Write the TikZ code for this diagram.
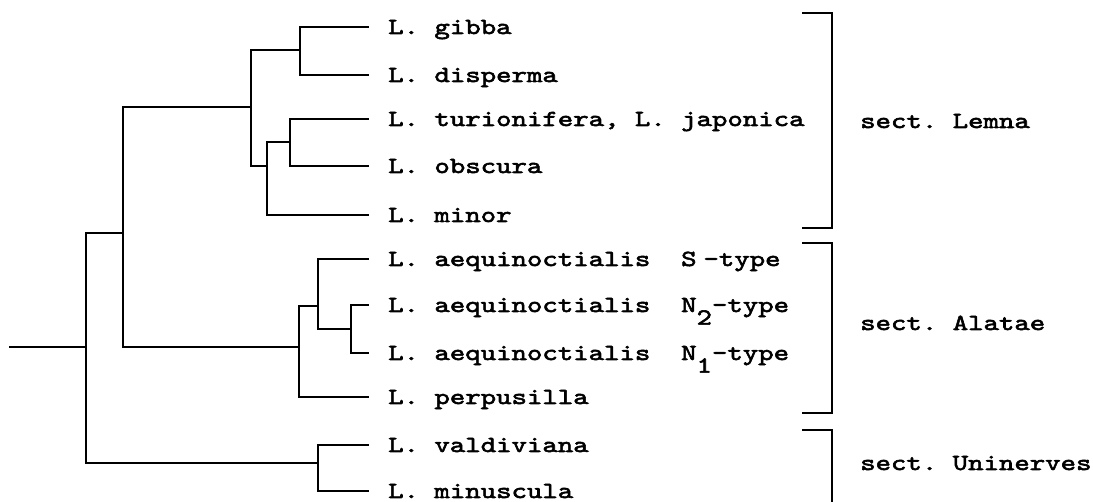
\documentclass[tikz,border=0pt]{standalone}
\usepackage{fontspec}
\newfontfamily\tw[FakeStretch=1.277,FakeBold=2.5]{lmmono10-regular.otf}
\begin{document}
\begin{tikzpicture}[x=1pt,y=-1pt,
  br/.style={line width=2.4pt, line cap=rect, line join=miter},
  bk/.style={line width=2.8pt, line join=miter},
  tfont/.style={font=\tw\fontsize{23}{28}\selectfont\frenchspacing},
  leaf/.style={tfont, anchor=west, inner xsep=20pt, inner ysep=0pt, text height=14pt, text depth=0pt},
  sect/.style={tfont, anchor=base west, inner sep=0pt}]
\useasboundingbox (0,0) rectangle (1093,502);
% internal nodes (join points)
\coordinate (start) at (10,347);
\coordinate (root) at (86,347);
\coordinate (top) at (123,233);
\coordinate (Lem) at (251,107);
\coordinate (gd) at (300,50);
\coordinate (mo) at (267,166);
\coordinate (to) at (290,142);
\coordinate (Ala) at (299,347);
\coordinate (Sn) at (318,306);
\coordinate (Nn) at (351,329);
\coordinate (Uni) at (318,463);
% leaf labels
\node[leaf] (t1) at (368,27) {L. gibba};
\node[leaf] (t2) at (368,75) {L. disperma};
\node[leaf] (t3) at (368,119) {L. turionifera, L. japonica};
\node[leaf] (t4) at (368,166) {L. obscura};
\node[leaf] (t5) at (368,215) {L. minor};
\node[leaf] (t6) at (368,259) {L. aequinoctialis~~S\hspace{0.3em}-type};
\node[leaf] (t7) at (368,305) {L. aequinoctialis~~N\raisebox{-0.55em}{2}-type};
\node[leaf] (t8) at (368,353) {L. aequinoctialis~~N\raisebox{-0.55em}{1}-type};
\node[leaf] (t9) at (368,397) {L. perpusilla};
\node[leaf] (t10) at (368,445) {L. valdiviana};
\node[leaf] (t11) at (368,491) {L. minuscula};
% tree
\draw[br] (start) -- (root);
\draw[br] (root) |- (top);
\draw[br] (root) |- (Uni);
\draw[br] (top) |- (Lem);
\draw[br] (top) |- (Ala);
\draw[br] (Lem) |- (gd);
\draw[br] (Lem) |- (mo);
\draw[br] (gd) |- (t1.west);
\draw[br] (gd) |- (t2.west);
\draw[br] (mo) |- (to);
\draw[br] (mo) |- (t5.west);
\draw[br] (to) |- (t3.west);
\draw[br] (to) |- (t4.west);
\draw[br] (Ala) |- (Sn);
\draw[br] (Ala) |- (t9.west);
\draw[br] (Sn) |- (t6.west);
\draw[br] (Sn) |- (Nn);
\draw[br] (Nn) |- (t7.west);
\draw[br] (Nn) |- (t8.west);
\draw[br] (Uni) |- (t10.west);
\draw[br] (Uni) |- (t11.west);
% brackets
\coordinate (bLa) at (802,13);
\coordinate (bLb) at (802,228);
\coordinate (bAa) at (802,243);
\coordinate (bAb) at (802,413);
\coordinate (bUa) at (802,430);
\coordinate (bUb) at (832,502);
\draw[bk] (bLa) -- ++(30,0) |- (bLb);
\draw[bk] (bAa) -- ++(30,0) |- (bAb);
\draw[bk] (bUa) -| (bUb);
\node[sect] (sL) at (860,128) {sect. Lemna};
\node[sect] (sA) at (860,330) {sect. Alatae};
\node[sect] (sU) at (860,470) {sect. Uninerves};
\end{tikzpicture}
\end{document}
